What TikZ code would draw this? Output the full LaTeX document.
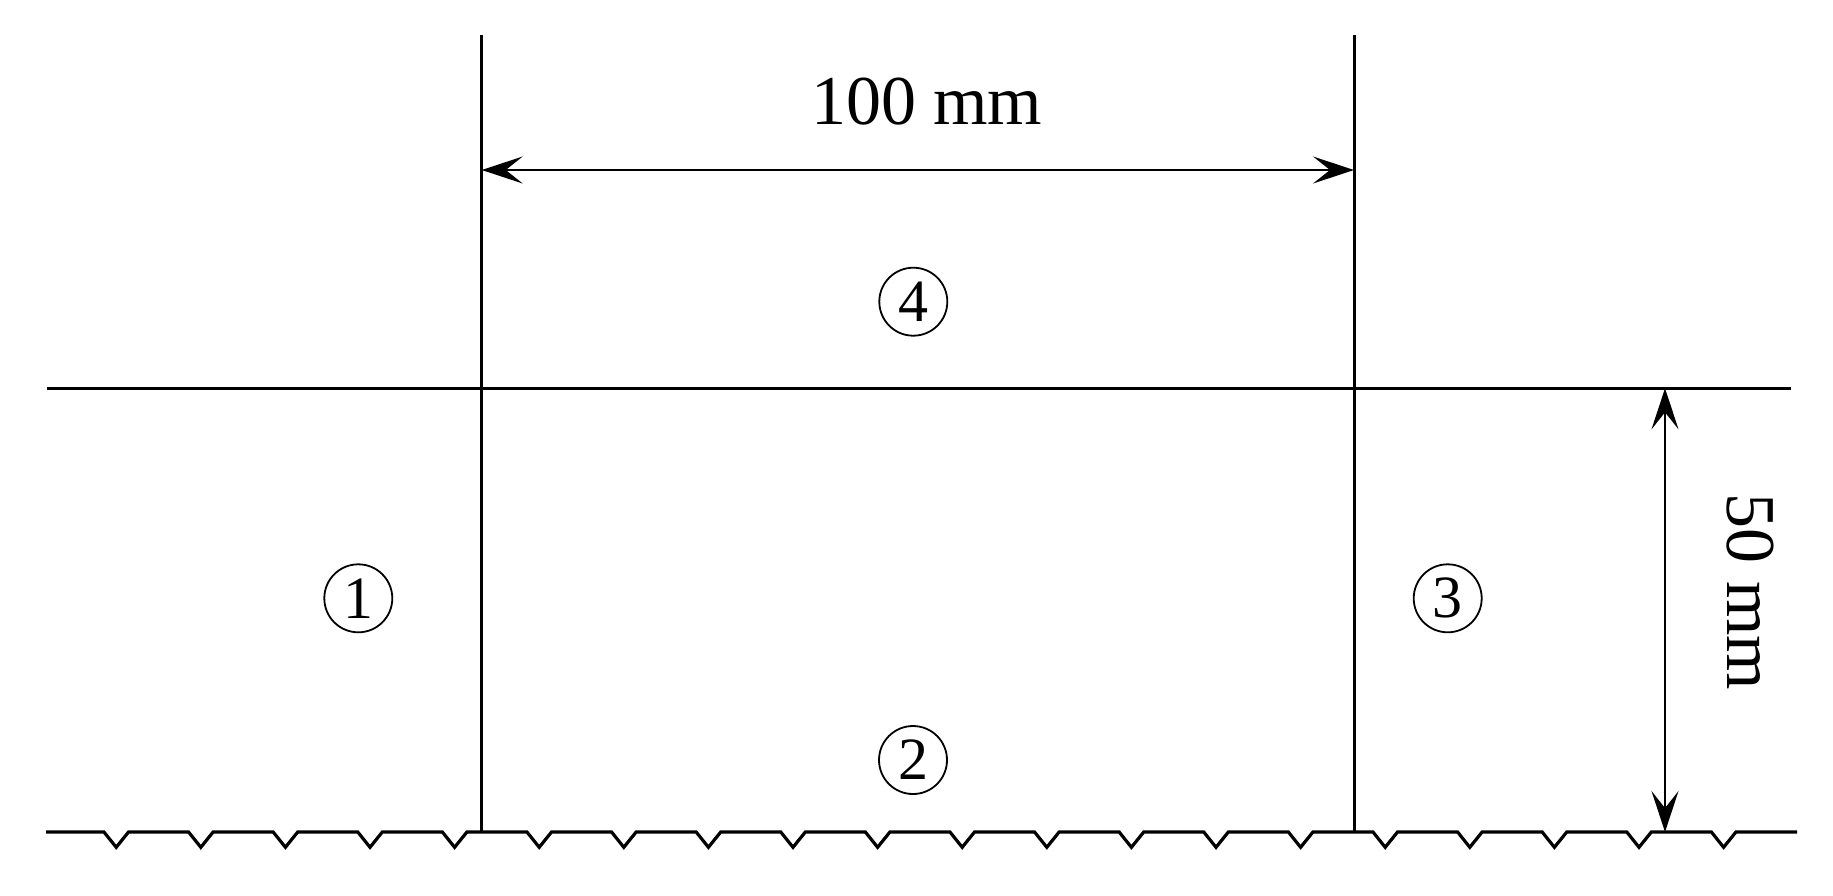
\documentclass[tikz,border=0pt]{standalone}
\usepackage{fontspec}
\setmainfont{Liberation Serif}
\usetikzlibrary{arrows.meta}
\begin{document}
\begin{tikzpicture}[x=1pt,y=-1pt,
  mainline/.style={line width=3pt},
  groundline/.style={line width=3.2pt, line join=miter},
  dimline/.style={line width=2pt, {Stealth[length=41pt,width=27pt,inset=17pt]}-{Stealth[length=41pt,width=27pt,inset=17pt]}},
  dimlabel/.style={inner sep=0pt, font=\fontsize{70}{80}\selectfont},
  zone/.style={draw, circle, line width=1.8pt, minimum size=68pt, inner sep=0pt, font=\fontsize{60}{64}\selectfont}]
\useasboundingbox (0,0) rectangle (1833,895);
% key points
\coordinate (LT) at (481.7,35);
\coordinate (LB) at (481.7,832);
\coordinate (RT) at (1354,35);
\coordinate (RB) at (1354,832);
\coordinate (HL) at (46.7,388.3);
\coordinate (HR) at (1791.3,388.3);
\coordinate (GL) at (46,832);
\coordinate (GR) at (1797,832);
\coordinate (A1) at (481.7,170);
\coordinate (A2) at (1354,170);
\coordinate (B1) at (1665,388.3);
\coordinate (B2) at (1665,832);
% structure lines
\draw[mainline] (LT) -- (LB);
\draw[mainline] (RT) -- (RB);
\draw[mainline] (HL) -- (HR);
% ground line with notches
\draw[groundline] (GL) foreach \k in {0,...,19} { -- ({104+84.6*\k},832) -- ++(12.2,15.3) -- ++(12.3,-15.3) } -- (GR);
% dimensions
\draw[dimline] (A1) -- (A2);
\draw[dimline] (B1) -- (B2);
\node[dimlabel] (d100) at (926.7,102) {100 mm};
\node[dimlabel, rotate=-90] (d50) at (1750,592) {50 mm};
% zone labels
\node[zone] (z1) at (358.3,598.3) {1};
\node[zone] (z2) at (913,760) {2};
\node[zone] (z3) at (1447.7,598.3) {3};
\node[zone] (z4) at (913.3,301.7) {4};
\end{tikzpicture}
\end{document}
